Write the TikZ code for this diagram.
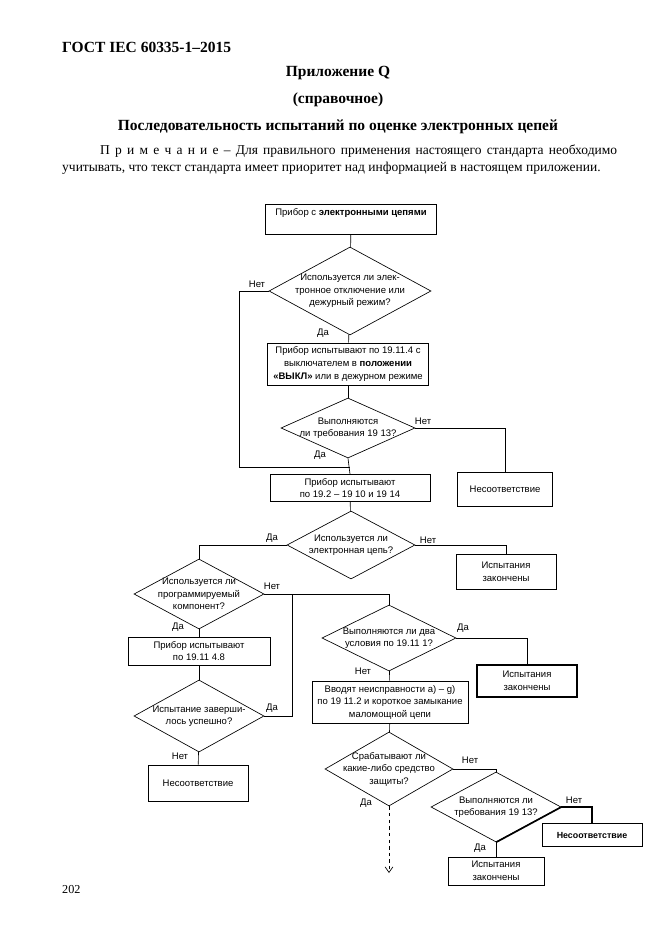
\documentclass[tikz,border=0pt]{standalone}
\usepackage{fontspec}
\setmainfont{Liberation Serif}
\newfontfamily\arialf{Liberation Sans}
\usepackage{tikz}
\usetikzlibrary{arrows.meta}
\usetikzlibrary{shapes.geometric}
\newlength\px
\setlength\px{0.03175cm}

\begin{document}
\begin{tikzpicture}[x=0.03175cm,y=-0.03175cm,
	box/.style={draw, rectangle, line width=0.6pt, font=\arialf\fontsize{8.6}{11.3}\selectfont, align=center, inner sep=1pt},
	dec/.style={draw, diamond, line width=0.6pt, inner sep=0pt},
	dtext/.style={font=\arialf\fontsize{8.6}{11.3}\selectfont, align=center, inner sep=0pt},
	lbl/.style={font=\arialf\fontsize{8.6}{10}\selectfont, inner sep=0pt},
	line/.style={line width=0.6pt}]
	
	\useasboundingbox[fill=white] (0,0) rectangle (661,935);
	
	\node[anchor=west, font=\bfseries\fontsize{14}{16}\selectfont, inner sep=0pt] (gost) at (62,47) {ГОСТ IEC 60335-1–2015};
	\node[font=\bfseries\fontsize{14}{16}\selectfont, inner sep=0pt] (app) at (338,73) {Приложение Q};
	\node[font=\bfseries\fontsize{14}{16}\selectfont, inner sep=0pt] (ref) at (338,100) {(справочное)};
	\node[font=\bfseries\fontsize{14}{16}\selectfont, inner sep=0pt] (title) at (338,127) {Последовательность испытаний по оценке электронных цепей};
	\node[anchor=west, font=\fontsize{12.2}{15}\selectfont, inner sep=0pt] (note1) at (100,151)
		{\makebox[517\px][s]{П р и м е ч а н и е – Для правильного применения настоящего стандарта необходимо}};
	\node[anchor=west, font=\fontsize{12.2}{15}\selectfont, inner sep=0pt] (note2) at (62,168)
		{учитывать, что текст стандарта имеет приоритет над информацией в настоящем приложении.};
	\node[anchor=west, font=\fontsize{11}{13}\selectfont, inner sep=0pt] (page) at (62,889) {202};
	
	\node[box, minimum width=171\px, text height=9pt, text depth=16pt] (b1) at (351,219) {Прибор с \textbf{электронными цепями}};
	\node[dec, minimum width=162\px, minimum height=88\px,
		label={[dtext]center:Используется ли элек-\\тронное отключение или\\дежурный режим?}] (d1) at (350,291) {};
	\node[box, minimum width=161\px, minimum height=42\px] (b2) at (348,364)
		{Прибор испытывают по 19.11.4 с\\выключателем в \textbf{положении}\\\textbf{«ВЫКЛ»} или в дежурном режиме};
	\node[dec, minimum width=134\px, minimum height=60\px,
		label={[dtext]center:Выполняются\\ли требования 19 13?}] (d2) at (348,428) {};
	\node[box, minimum width=95\px, minimum height=34\px] (nc1) at (505,489) {Несоответствие};
	\node[box, minimum width=160\px, minimum height=27\px] (b3) at (350,488) {Прибор испытывают\\по 19.2 – 19 10 и 19 14};
	\node[dec, minimum width=128\px, minimum height=68\px,
		label={[dtext]center:Используется ли\\электронная цепь?}] (d3) at (351,545) {};
	\node[box, minimum width=100\px, minimum height=35\px] (e1) at (506,572) {Испытания\\закончены};
	\node[dec, minimum width=130\px, minimum height=70\px,
		label={[dtext]center:Используется ли\\программируемый\\компонент?}] (d4) at (199,594) {};
	\node[box, minimum width=142\px, minimum height=28\px] (b4) at (199,651) {Прибор испытывают\\по 19.11 4.8};
	\node[dec, minimum width=130\px, minimum height=72\px,
		label={[dtext]center:Испытание заверши-\\лось успешно?}] (d5) at (199,716) {};
	\node[box, minimum width=100\px, minimum height=36\px] (nc2) at (198,783) {Несоответствие};
	\node[dec, minimum width=134\px, minimum height=66\px,
		label={[dtext]center:Выполняются ли два\\условия по 19.11 1?}] (d6) at (389,638) {};
	\node[box, minimum width=100\px, minimum height=32\px, line width=1pt] (e2) at (527,681) {Испытания\\закончены};
	\node[box, minimum width=156\px, minimum height=42\px] (b5) at (390,702)
		{Вводят неисправности a) – g)\\по 19 11.2 и короткое замыкание\\маломощной цепи};
	\node[dec, minimum width=128\px, minimum height=74\px,
		label={[dtext]center:Срабатывают ли\\какие-либо средство\\защиты?}] (d7) at (389,769) {};
	\node[dec, minimum width=130\px, minimum height=70\px,
		label={[dtext]center:Выполняются ли\\требования 19 13?}] (d8) at (496,807) {};
	\node[box, minimum width=100\px, minimum height=23\px, font=\arialf\bfseries\fontsize{8}{9}\selectfont] (nc3) at (592,835) {Несоответствие};
	\node[box, minimum width=96\px, minimum height=28\px] (e3) at (496,871) {Испытания\\закончены};
	
	\node[lbl] (n1) at (257,284) {Нет};
	\node[lbl] (y1) at (323,333) {Да};
	\node[lbl] (n2) at (423,421) {Нет};
	\node[lbl] (y2) at (320,455) {Да};
	\node[lbl] (y3) at (272,538) {Да};
	\node[lbl] (n3) at (428,540) {Нет};
	\node[lbl] (n4) at (272,586) {Нет};
	\node[lbl] (y4) at (178,627) {Да};
	\node[lbl] (y5) at (272,708) {Да};
	\node[lbl] (n5) at (180,756) {Нет};
	\node[lbl] (y6) at (463,628) {Да};
	\node[lbl] (n6) at (363,671) {Нет};
	\node[lbl] (n7) at (470,760) {Нет};
	\node[lbl] (y7) at (366,803) {Да};
	\node[lbl] (n8) at (574,800) {Нет};
	\node[lbl] (y8) at (480,848) {Да};
	
	\coordinate (c1) at (239,467);
	\coordinate (c2) at (350,467);
	\coordinate (c3) at (292,594);
	\coordinate (c4) at (389,873);
	
	\draw[line] (b1) -- (d1);
	\draw[line] (d1) -- (b2);
	\draw[line] (b2) -- (d2);
	\draw[line] (d2.south) -- (b3.north);
	\draw[line] (d1.west) -| (c1) -- (c2);
	\draw[line] (d2.east) -| (nc1.north);
	\draw[line] (b3) -- (d3);
	\draw[line] (d3.west) -| (d4.north);
	\draw[line] (d3.east) -| (e1.north);
	\draw[line] (d4) -- (b4);
	\draw[line] (b4) -- (d5);
	\draw[line] (d5) -- (nc2);
	\draw[line] (d4.east) -| (d6.north);
	\draw[line] (d5.east) -| (c3);
	\draw[line] (d6.east) -| (e2.north);
	\draw[line] (d6) -- (b5);
	\draw[line] (b5) -- (d7);
	\draw[line] (d7.east) -| (d8.north);
	\draw[line, dashed, -{Straight Barb[length=5pt,width=7pt]}] (d7.south) -- (c4);
	\draw[line width=1.5pt] (d8.east) -- (d8.south);
	\draw[line width=1.5pt] (d8.east) -| (nc3.north);
	\draw[line] (d8) -- (e3);
\end{tikzpicture}
\end{document}
